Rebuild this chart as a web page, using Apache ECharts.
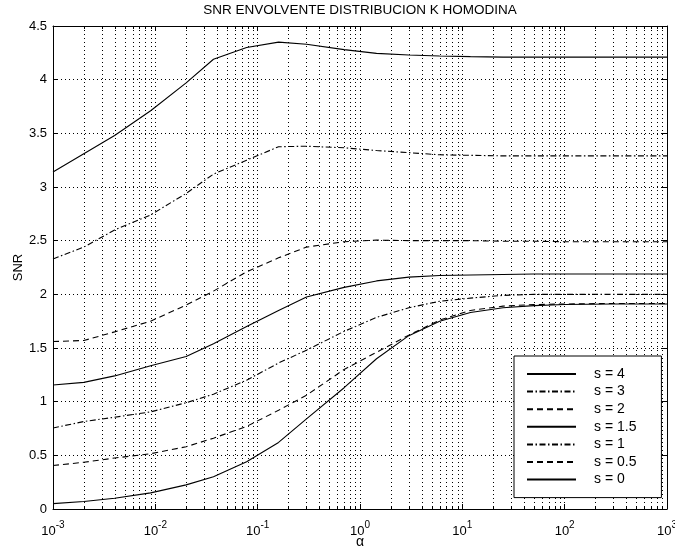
<!DOCTYPE html>
<html>
<head>
<meta charset="utf-8">
<script src="https://cdn.jsdelivr.net/npm/echarts@6/dist/echarts.min.js"></script>
<style>html,body{margin:0;padding:0;background:#fff;}#c{width:675px;height:553px;}</style>
</head>
<body>
<div id="c"></div>
<script>
// ---- data ----
const alpha = [0.001, 0.002, 0.004, 0.009, 0.02, 0.037, 0.078, 0.16, 0.3, 0.7, 1.45, 3, 6, 12, 25, 50, 100, 300, 1000];
const s4  = [3.14, 3.31, 3.48, 3.71, 3.97, 4.19, 4.30, 4.35, 4.33, 4.28, 4.245, 4.23, 4.22, 4.215, 4.21, 4.21, 4.21, 4.21, 4.21];
const s3  = [2.33, 2.44, 2.60, 2.74, 2.94, 3.12, 3.25, 3.375, 3.38, 3.365, 3.34, 3.32, 3.30, 3.295, 3.29, 3.29, 3.29, 3.29, 3.29];
const s2  = [1.56, 1.57, 1.65, 1.75, 1.90, 2.03, 2.21, 2.34, 2.44, 2.49, 2.505, 2.50, 2.50, 2.50, 2.495, 2.495, 2.49, 2.49, 2.49];
const s15 = [1.155, 1.18, 1.24, 1.335, 1.42, 1.54, 1.70, 1.85, 1.975, 2.065, 2.125, 2.16, 2.175, 2.18, 2.185, 2.19, 2.19, 2.19, 2.19];
const s1  = [0.755, 0.815, 0.855, 0.905, 0.99, 1.07, 1.20, 1.36, 1.48, 1.655, 1.785, 1.875, 1.935, 1.965, 1.99, 2.0, 2.0, 2.0, 2.0];
const s05 = [0.405, 0.435, 0.475, 0.515, 0.58, 0.66, 0.77, 0.92, 1.06, 1.30, 1.46, 1.62, 1.76, 1.85, 1.89, 1.905, 1.91, 1.915, 1.915];
const s0  = [0.05, 0.07, 0.10, 0.15, 0.225, 0.30, 0.44, 0.62, 0.84, 1.13, 1.40, 1.615, 1.75, 1.83, 1.875, 1.895, 1.905, 1.91, 1.91];
const seriesNames = ['s = 4', 's = 3', 's = 2', 's = 1.5', 's = 1', 's = 0.5', 's = 0'];
const seriesValues = [s4, s3, s2, s15, s1, s05, s0];
const dashTypes = ['solid', [6, 2.5, 1.5, 2.5], [6, 4], 'solid', [6, 2.5, 1.5, 2.5], [6, 4], 'solid'];
const titleText = 'SNR ENVOLVENTE DISTRIBUCION K HOMODINA';
const xName = 'α';
const yName = 'SNR';
const xMin = 0.001, xMax = 1000;
const yMin = 0, yMax = 4.5, yStep = 0.5;

// minor decade positions (2..9 x 10^k) for the dotted grid
const minorVals = [];
for (let k = -3; k < 3; k++) for (let m = 2; m <= 9; m++) minorVals.push(m * Math.pow(10, k));

const FONT = '"Liberation Sans", Arial, Helvetica, sans-serif';
const chart = echarts.init(document.getElementById('c'), null, {renderer: 'canvas'});

const lineSeries = seriesNames.map((n, i) => ({
  name: n, type: 'line', xAxisIndex: 0, yAxisIndex: 0,
  data: alpha.map((a, j) => [a, seriesValues[i][j]]),
  symbol: 'none', smooth: false, z: 5,
  lineStyle: {color: '#000', width: 1.1, type: dashTypes[i]},
  itemStyle: {color: '#000'}
}));

const minorSeries = {
  type: 'custom', xAxisIndex: 0, yAxisIndex: 0, z: 1, silent: true,
  data: minorVals.map(v => [v, yMin]),
  encode: {x: 0, y: 1},
  clip: false,
  renderItem: function (params, api) {
    const v = api.value(0);
    const pB = api.coord([v, yMin]);
    const pT = api.coord([v, yMax]);
    const x = Math.round(pB[0]) + 0.5;
    return {
      type: 'group',
      children: [
        {type: 'line', shape: {x1: x, y1: pT[1], x2: x, y2: pB[1]},
         style: {stroke: '#000', lineWidth: 1, lineDash: [1, 3]}},
        {type: 'line', shape: {x1: x, y1: pB[1], x2: x, y2: pB[1] - 3},
         style: {stroke: '#000', lineWidth: 1}},
        {type: 'line', shape: {x1: x, y1: pT[1], x2: x, y2: pT[1] + 3},
         style: {stroke: '#000', lineWidth: 1}}
      ]
    };
  }
};

const option = {
  animation: false,
  backgroundColor: '#fff',
  textStyle: {fontFamily: FONT, color: '#000'},
  title: {
    text: titleText, left: 360, top: 0, textAlign: 'center',
    padding: [3, 0, 0, 0],
    textStyle: {fontFamily: FONT, fontSize: 13.5, fontWeight: 'normal', color: '#000'}
  },
  grid: {left: 53, right: 8, top: 26, bottom: 44, containLabel: false, outerBoundsMode: 'none'},
  legend: {
    data: seriesNames,
    orient: 'vertical',
    left: 514, top: 356,
    itemWidth: 49, itemHeight: 14, itemGap: 3.6,
    padding: [11, 25, 11, 12],
    backgroundColor: '#fff',
    borderColor: '#000', borderWidth: 1,
    selectedMode: false,
    itemStyle: {opacity: 0, borderWidth: 0},
    textStyle: {fontFamily: FONT, fontSize: 14, color: '#000', padding: [0, 0, 0, 13]}
  },
  xAxis: [{
    type: 'log', logBase: 10, min: xMin, max: xMax, splitNumber: 6,
    name: xName, nameLocation: 'middle', nameGap: 26, nameMoveOverlap: false,
    nameTextStyle: {fontFamily: FONT, fontSize: 14, color: '#000'},
    axisLine: {show: true, lineStyle: {color: '#000', width: 1}},
    axisTick: {show: true, inside: true, length: 5, lineStyle: {color: '#000'}},
    axisLabel: {
      margin: 11, color: '#000', fontFamily: FONT,
      formatter: function (v) {
        const e = Math.round(Math.log10(v));
        return '{b|10}{s|' + e + '}';
      },
      rich: {
        b: {fontSize: 13, fontFamily: FONT, color: '#000'},
        s: {fontSize: 10, fontFamily: FONT, color: '#000', padding: [0, 0, 12, 0]}
      }
    },
    splitLine: {show: true, lineStyle: {color: '#000', width: 1, type: [1, 3]}}
  }, {
    type: 'log', logBase: 10, min: xMin, max: xMax, splitNumber: 6, position: 'top',
    axisLine: {show: true, onZero: false, lineStyle: {color: '#000', width: 1}},
    axisTick: {show: true, inside: true, length: 5, lineStyle: {color: '#000'}},
    axisLabel: {show: false},
    splitLine: {show: false}
  }],
  yAxis: [{
    type: 'value', min: yMin, max: yMax, interval: yStep,
    name: yName, nameLocation: 'middle', nameGap: 28, nameRotate: 90, nameMoveOverlap: false,
    nameTextStyle: {fontFamily: FONT, fontSize: 13, color: '#000'},
    axisLine: {show: true, lineStyle: {color: '#000', width: 1}},
    axisTick: {show: true, inside: true, length: 5, lineStyle: {color: '#000'}},
    axisLabel: {margin: 6, color: '#000', fontFamily: FONT, fontSize: 13},
    splitLine: {show: true, lineStyle: {color: '#000', width: 1, type: [1, 3]}}
  }, {
    type: 'value', min: yMin, max: yMax, interval: yStep, position: 'right',
    axisLine: {show: true, onZero: false, lineStyle: {color: '#000', width: 1}},
    axisTick: {show: true, inside: true, length: 5, lineStyle: {color: '#000'}},
    axisLabel: {show: false},
    splitLine: {show: false}
  }],
  series: [minorSeries].concat(lineSeries)
};
chart.setOption(option);
</script>
</body>
</html>
